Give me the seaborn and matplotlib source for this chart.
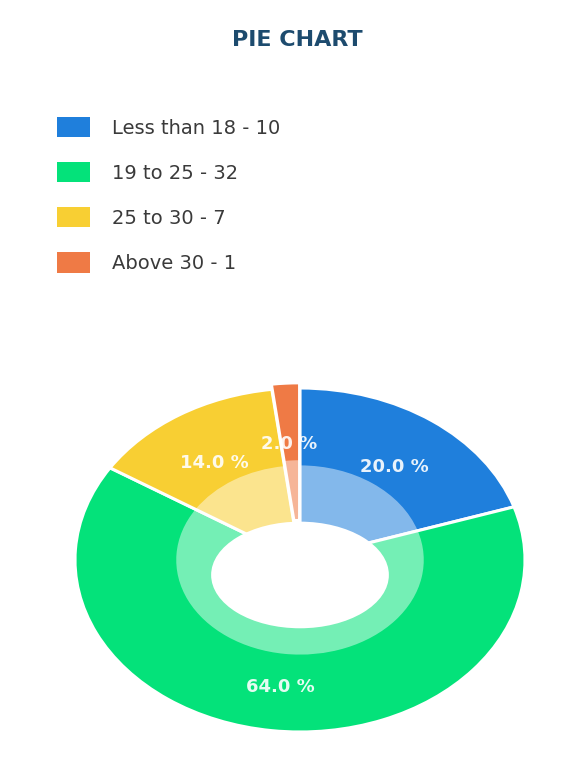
import matplotlib
matplotlib.use("Agg")
import matplotlib.pyplot as plt
from matplotlib.patches import Patch, Ellipse
import seaborn as sns

# Age groups and respondent counts
categories = ["Less than 18", "19 to 25", "25 to 30", "Above 30"]
counts = [10, 32, 7, 1]
colors = ["#1f7fdc", "#04e27a", "#f8cf33", "#ef7a45"]

sns.set_theme(style="white")
plt.rcParams["font.family"] = ["DejaVu Sans"]

fig = plt.figure(figsize=(5.71, 7.72), dpi=100)
fig.patch.set_facecolor("white")

fig.text(0.521, 1 - 40 / 772, "PIE CHART", ha="center", va="center",
         fontsize=16, fontweight="semibold", color="#1d4b6e")

# Donut drawn on a stretched axes so it appears as an ellipse
cx, cy, rx, ry, pad = 300, 560, 225, 172, 1.1
ax = fig.add_axes([(cx - rx * pad) / 571, (772 - cy - ry * pad) / 772,
                   2 * rx * pad / 571, 2 * ry * pad / 772])
explode = [0.0, 0.0, 0.0, 0.03]

wedges, _, autotexts = ax.pie(
    counts, colors=colors, startangle=90, counterclock=False,
    radius=1.0, explode=explode,
    autopct=lambda p: f"{p:.1f} %", pctdistance=0.71,
    wedgeprops=dict(width=0.8, edgecolor="white", linewidth=2.2),
    textprops=dict(color="white", fontsize=13, fontweight="bold", alpha=0.9),
)
# Paler inner band of each slice
ax.pie(
    counts, colors=["white"] * len(counts), startangle=90, counterclock=False,
    radius=0.55, explode=explode,
    wedgeprops=dict(width=0.4, edgecolor="none", linewidth=0, alpha=0.45),
)
# Centre hole, seen slightly in perspective
ax.add_patch(Ellipse((0.0, -0.087), 0.79, 0.62, facecolor="white",
                     edgecolor="none", zorder=4))
for t in autotexts:
    t.set_zorder(5)
    x, y = t.get_position()
    t.set_position((x, y - 0.035))
autotexts[3].set_position((autotexts[3].get_position()[0],
                           autotexts[3].get_position()[1] - 0.03))
ax.set_aspect("auto")
ax.set_xlim(-pad, pad)
ax.set_ylim(-pad, pad)
ax.axis("off")

handles = [Patch(facecolor=c, edgecolor="none") for c in colors]
labels = [f"{c} - {n}" for c, n in zip(categories, counts)]
fig.legend(handles, labels, loc="upper left",
           bbox_to_anchor=(57 / 571, 1 - 117 / 772),
           frameon=False, fontsize=14, borderpad=0, borderaxespad=0,
           handlelength=1.7, handleheight=1.22, handletextpad=1.15,
           labelspacing=1.26, labelcolor="#3a3a3a")

fig.savefig("out.png", dpi=100, facecolor="white")
